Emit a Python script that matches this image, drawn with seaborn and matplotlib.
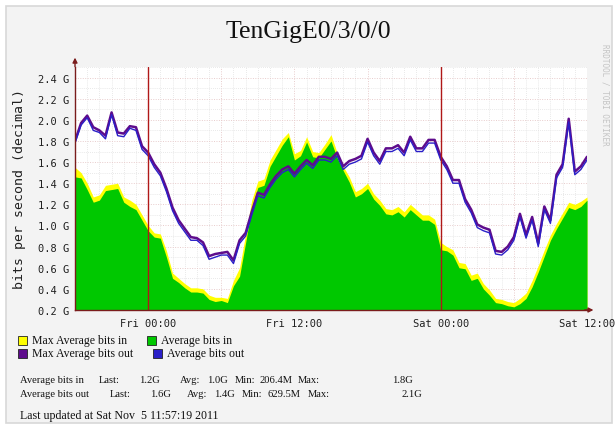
import numpy as np
import matplotlib.pyplot as plt
import seaborn as sns
from matplotlib.patches import Rectangle

# half-hour samples, hour 0 = Thu 18:00
hours = np.arange(0, 42.5, 0.5)

in_avg = [1.46, 1.45, 1.34, 1.22, 1.24, 1.33, 1.34, 1.35, 1.22, 1.18,
          1.15, 1.05, 0.95, 0.89, 0.88, 0.70, 0.50, 0.46, 0.41, 0.37,
          0.37, 0.36, 0.30, 0.28, 0.29, 0.27, 0.43, 0.52, 0.84, 1.17,
          1.36, 1.38, 1.56, 1.66, 1.76, 1.84, 1.62, 1.66, 1.79, 1.65,
          1.64, 1.72, 1.80, 1.64, 1.52, 1.41, 1.27, 1.30, 1.35, 1.25,
          1.19, 1.11, 1.10, 1.13, 1.08, 1.15, 1.10, 1.05, 1.05, 1.01,
          0.77, 0.76, 0.72, 0.60, 0.59, 0.48, 0.50, 0.40, 0.34, 0.27,
          0.26, 0.24, 0.23, 0.26, 0.31, 0.42, 0.56, 0.71, 0.86, 0.97,
          1.07, 1.17, 1.15, 1.18, 1.24]

in_max = [1.55, 1.50, 1.40, 1.27, 1.29, 1.38, 1.39, 1.40, 1.27, 1.24,
          1.20, 1.10, 1.00, 0.93, 0.92, 0.76, 0.55, 0.50, 0.45, 0.41,
          0.41, 0.40, 0.34, 0.32, 0.32, 0.31, 0.48, 0.60, 0.92, 1.24,
          1.42, 1.44, 1.62, 1.72, 1.82, 1.88, 1.68, 1.71, 1.84, 1.70,
          1.69, 1.77, 1.86, 1.69, 1.56, 1.46, 1.32, 1.35, 1.40, 1.30,
          1.24, 1.16, 1.15, 1.18, 1.13, 1.20, 1.15, 1.10, 1.10, 1.06,
          0.84, 0.80, 0.77, 0.65, 0.64, 0.53, 0.55, 0.45, 0.39, 0.31,
          0.30, 0.28, 0.27, 0.31, 0.36, 0.48, 0.62, 0.77, 0.91, 1.02,
          1.12, 1.22, 1.20, 1.23, 1.27]

out_avg = [1.78, 1.95, 2.02, 1.90, 1.88, 1.82, 2.05, 1.85, 1.84, 1.92,
           1.90, 1.72, 1.66, 1.55, 1.47, 1.32, 1.14, 1.02, 0.94, 0.86,
           0.86, 0.81, 0.68, 0.70, 0.72, 0.72, 0.64, 0.83, 0.90, 1.10,
           1.28, 1.26, 1.36, 1.44, 1.50, 1.53, 1.46, 1.53, 1.59, 1.54,
           1.62, 1.62, 1.60, 1.66, 1.53, 1.58, 1.60, 1.63, 1.79, 1.66,
           1.58, 1.70, 1.70, 1.73, 1.66, 1.81, 1.70, 1.70, 1.78, 1.78,
           1.62, 1.53, 1.40, 1.40, 1.22, 1.12, 0.98, 0.95, 0.93, 0.73,
           0.72, 0.77, 0.86, 1.08, 0.88, 1.05, 0.80, 1.15, 1.02, 1.45,
           1.55, 1.98, 1.48, 1.53, 1.62]

out_max = [1.80, 1.97, 2.04, 1.93, 1.90, 1.85, 2.07, 1.88, 1.87, 1.94,
           1.93, 1.75, 1.69, 1.58, 1.50, 1.35, 1.17, 1.05, 0.97, 0.89,
           0.88, 0.84, 0.71, 0.73, 0.74, 0.75, 0.67, 0.86, 0.93, 1.13,
           1.31, 1.29, 1.39, 1.47, 1.53, 1.56, 1.49, 1.56, 1.62, 1.57,
           1.65, 1.65, 1.63, 1.69, 1.56, 1.61, 1.63, 1.66, 1.82, 1.69,
           1.61, 1.73, 1.73, 1.76, 1.69, 1.84, 1.73, 1.73, 1.81, 1.81,
           1.65, 1.56, 1.43, 1.43, 1.25, 1.15, 1.01, 0.98, 0.96, 0.76,
           0.75, 0.80, 0.89, 1.11, 0.91, 1.08, 0.83, 1.18, 1.05, 1.48,
           1.58, 2.01, 1.51, 1.56, 1.65]

x_ticks = [0, 6, 12, 18, 24, 30, 36, 42]
x_labels = ["", "Fri 00:00", "", "Fri 12:00", "", "Sat 00:00", "", "Sat 12:00"]
midnights = [6, 30]
y_ticks = [0.2, 0.4, 0.6, 0.8, 1.0, 1.2, 1.4, 1.6, 1.8, 2.0, 2.2, 2.4]
y_labels = ["0.2 G", "0.4 G", "0.6 G", "0.8 G", "1.0 G", "1.2 G",
            "1.4 G", "1.6 G", "1.8 G", "2.0 G", "2.2 G", "2.4 G"]

legend_names = ["Max Average bits in", "Average bits in",
                "Max Average bits out", "Average bits out"]
in_stats = ["1.2G", "1.0G", "206.4M", "1.8G"]
out_stats = ["1.6G", "1.4G", "629.5M", "2.1G"]

c_yellow = "#ffff00"
c_green = "#00c800"
c_purple = "#5e0c8c"
c_blue = "#2a1fc8"
c_axis = "#7a1c1c"

sns.set_style("white")
plt.rcParams['font.family'] = ['DejaVu Sans']

W, H = 616, 427
fig = plt.figure(figsize=(W / 100, H / 100), dpi=100)
fig.patch.set_facecolor("white")
fig.patches.append(Rectangle((6 / W, 3 / H), 606 / W, 417 / H, transform=fig.transFigure,
                             facecolor="#f3f3f3", edgecolor="#d8d8d8", lw=1.2, zorder=-10))

ax = fig.add_axes([75 / W, 116 / H, 512 / W, 243 / H])
ax.set_facecolor("white")

ax.fill_between(hours, 0.2, in_max, color=c_yellow, lw=0, zorder=2)
ax.fill_between(hours, 0.2, in_avg, color=c_green, lw=0, zorder=3)
sns.lineplot(x=hours, y=out_max, color=c_purple, lw=1.8, ax=ax, zorder=4)
sns.lineplot(x=hours, y=out_avg, color=c_blue, lw=1.0, ax=ax, zorder=5)

for m in midnights:
    ax.axvline(m, color="#b01818", lw=1, zorder=6)

ax.set_xlim(0, 42)
ax.set_ylim(0.2, 2.5)
ax.set_xticks(x_ticks)
ax.set_xticklabels(x_labels)
ax.set_yticks(y_ticks)
ax.set_yticklabels(y_labels)
ax.set_xticks(np.arange(0, 43, 1), minor=True)
ax.set_yticks(np.arange(0.2, 2.51, 0.1), minor=True)
ax.grid(which="minor", color="#e2e2e2", ls=(0, (1, 1.5)), lw=0.6, zorder=0)
ax.grid(which="major", color="#e8cccc", ls=(0, (1, 1.5)), lw=0.7, zorder=0)
ax.set_axisbelow(True)
ax.tick_params(axis="both", which="major", length=4, width=0.8, color="#606060",
               direction="out", pad=2, labelsize=7.5, labelcolor="#202020")
ax.tick_params(axis="both", which="minor", length=0)
ax.tick_params(axis="y", direction="inout", length=5)
for lab in ax.get_xticklabels() + ax.get_yticklabels():
    lab.set_family("DejaVu Sans Mono")
ax.set_xlabel("")
ax.set_ylabel("")

for s in ["top", "right"]:
    ax.spines[s].set_visible(False)
for s in ["left", "bottom"]:
    ax.spines[s].set_color(c_axis)
    ax.spines[s].set_linewidth(1)
    ax.spines[s].set_zorder(7)

ax.annotate("", xy=(0, 1.05), xytext=(0, 0.99), xycoords="axes fraction",
            arrowprops=dict(arrowstyle="-|>", color=c_axis, lw=1, mutation_scale=7))
ax.annotate("", xy=(1.018, 0), xytext=(0.99, 0), xycoords="axes fraction",
            arrowprops=dict(arrowstyle="-|>", color=c_axis, lw=1, mutation_scale=7))

def fx(px):
    return px / W

def fy(py):
    return (H - py) / H

fig.text(0.5, fy(38), "TenGigE0/3/0/0", ha="center", va="baseline",
         family="Liberation Serif", size=18.5, color="#111111")
fig.text(fx(20), fy(189), "bits per second (decimal)", rotation=90, ha="center", va="center",
         family="DejaVu Sans Mono", size=9.5, color="#202020")
fig.text(fx(605), fy(95), "RRDTOOL / TOBI OETIKER", rotation=270, ha="center", va="center",
         family="DejaVu Sans Mono", size=5.5, color="#c4c4c4")

# legend boxes
legend_colors = [c_yellow, c_green, c_purple, c_blue]
legend_pos = [(18, 341), (147, 341), (18, 354), (153, 354)]
for name, col, (lx, ly) in zip(legend_names, legend_colors, legend_pos):
    fig.patches.append(Rectangle((fx(lx), fy(ly + 4.5)), 9 / W, 9 / H, transform=fig.transFigure,
                                 facecolor=col, edgecolor="#222222", lw=0.6))
    fig.text(fx(lx + 14), fy(ly), name, ha="left", va="center",
             family="Liberation Serif", size=8.5, color="#111111")

# stats lines
serif = dict(family="Liberation Serif", size=7.6, color="#111111", va="center")
rows = [("Average bits in", in_stats, 381, [99, 160, 180, 228, 235, 292, 298, 413]),
        ("Average bits out", out_stats, 395, [110, 171, 187, 235, 242, 301, 308, 422])]
for name, vals, yy, pos in rows:
    fig.text(fx(20), fy(yy), name, ha="left", **serif)
    for i, key in enumerate(["Last:", "Avg:", "Min:", "Max:"]):
        fig.text(fx(pos[2 * i]), fy(yy), key, ha="left", **serif)
        fig.text(fx(pos[2 * i + 1]), fy(yy), vals[i], ha="right", **serif)

fig.text(fx(20), fy(416), "Last updated at Sat Nov  5 11:57:19 2011", ha="left",
         family="Liberation Serif", size=8.6, color="#111111", va="center")

fig.savefig("out.png", dpi=100)
